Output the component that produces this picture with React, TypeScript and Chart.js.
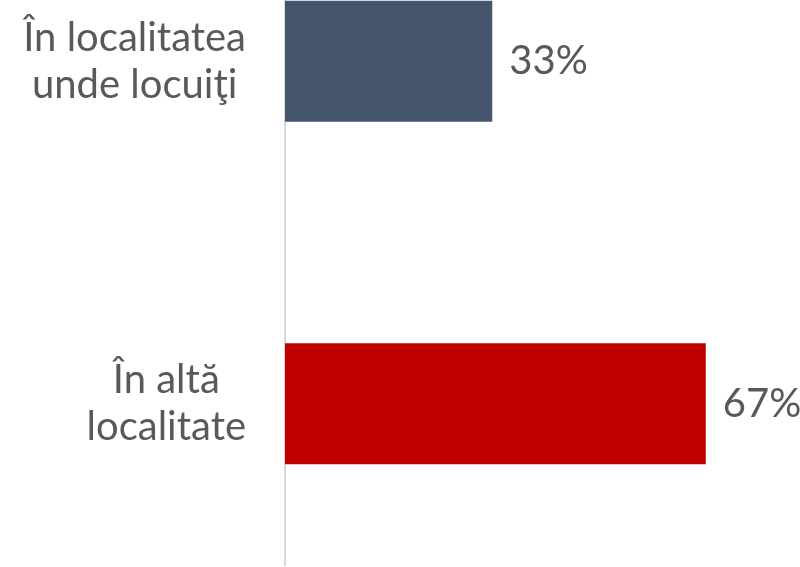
import React, { useEffect, useRef } from "react";
import { Chart, registerables } from "chart.js";

Chart.register(...registerables);

const categories: string[][] = [["În localitatea", "unde locuiţi"], ["În altă", "localitate"]];
const values: number[] = [33, 67];
const valueLabels: string[] = ["33%", "67%"];
const barColors: string[] = ["#44546A", "#C00000"];

const FONT_FAMILY = "Lato, 'Open Sans', sans-serif";
const FONT_SIZE = 40;
const LINE_HEIGHT = 47;
const TEXT_COLOR = "#595959";

const labelPlugin = {
  id: "customLabels",
  afterDatasetsDraw(chart: any) {
    const { ctx, chartArea } = chart;
    const yScale = chart.scales.y;
    ctx.save();
    ctx.font = `${FONT_SIZE}px ${FONT_FAMILY}`;
    ctx.fillStyle = TEXT_COLOR;
    // category labels: block right-aligned, lines centered inside block
    categories.forEach((lines, i) => {
      const y = yScale.getPixelForValue(i);
      const blockW = Math.max(...lines.map((l) => ctx.measureText(l).width));
      const cx = chartArea.left - 39 - blockW / 2;
      ctx.textAlign = "center";
      ctx.textBaseline = "middle";
      const total = (lines.length - 1) * LINE_HEIGHT;
      lines.forEach((line, j) => {
        ctx.fillText(line, cx, y - total / 2 + j * LINE_HEIGHT);
      });
    });
    // value labels
    const meta = chart.getDatasetMeta(0);
    meta.data.forEach((bar: any, i: number) => {
      ctx.textAlign = "left";
      ctx.textBaseline = "middle";
      ctx.fillText(valueLabels[i], bar.x + 17, bar.y);
    });
    ctx.restore();
  },
};

export default function App() {
  const canvasRef = useRef<HTMLCanvasElement | null>(null);

  useEffect(() => {
    if (!canvasRef.current) return;
    const chart = new Chart(canvasRef.current, {
      type: "bar",
      data: {
        labels: categories.map((c) => c.join(" ")),
        datasets: [
          {
            data: values,
            backgroundColor: barColors,
            borderWidth: 0,
            barPercentage: 0.354,
            categoryPercentage: 1,
          },
        ],
      },
      options: {
        indexAxis: "y",
        animation: false,
        responsive: false,
        maintainAspectRatio: false,
        layout: { padding: 0 },
        plugins: {
          legend: { display: false },
          tooltip: { enabled: false },
        },
        scales: {
          x: {
            display: false,
            min: 0,
            max: 82,
          },
          y: {
            display: true,
            grid: { display: false, drawTicks: false },
            ticks: { display: false },
            border: { display: true, color: "#D9D9D9", width: 2 },
            afterFit: (scale: any) => {
              scale.width = 285;
            },
          },
        },
      },
      plugins: [labelPlugin],
    });
    return () => chart.destroy();
  }, []);

  return (
    <div
      style={{
        position: "absolute",
        left: 0,
        top: 0,
        width: 800,
        height: 566,
        overflow: "hidden",
        background: "#fff",
      }}
    >
      <div style={{ position: "absolute", left: 0, top: -110, width: 800, height: 685 }}>
        <canvas ref={canvasRef} width={800} height={685} style={{ width: 800, height: 685 }} />
      </div>
    </div>
  );
}
